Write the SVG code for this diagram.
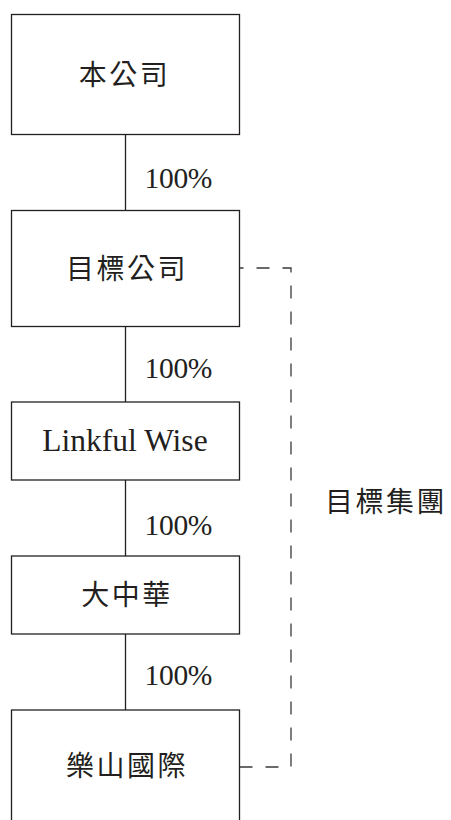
<svg xmlns="http://www.w3.org/2000/svg" width="451" height="820" viewBox="0 0 451 820">
<style>
.box{fill:#fff;stroke:#231f20;stroke-width:1.3}
.cjk{font-family:"Noto Sans CJK TC","Noto Sans CJK SC",sans-serif;font-size:28px;fill:#231f20;letter-spacing:2.5px;text-anchor:middle}
.lat{font-family:"Liberation Serif",serif;fill:#231f20}
.pct{font-size:29.5px;letter-spacing:-0.3px}
.line{stroke:#231f20;stroke-width:1.3;fill:none}
.dash{stroke:#3a3a3a;stroke-width:1.3;fill:none;stroke-dasharray:13 13}
</style>
<rect width="451" height="820" fill="#fff"/>
<g id="connectors">
<line class="line" x1="125.5" y1="134" x2="125.5" y2="210"/>
<line class="line" x1="125.5" y1="326" x2="125.5" y2="402"/>
<line class="line" x1="125.5" y1="480" x2="125.5" y2="556"/>
<line class="line" x1="125.5" y1="634" x2="125.5" y2="710"/>
<text class="lat pct" x="144.5" y="188">100%</text>
<text class="lat pct" x="144.5" y="378">100%</text>
<text class="lat pct" x="144.5" y="535">100%</text>
<text class="lat pct" x="144.5" y="685">100%</text>
<path class="dash" d="M239.5 268 H291 V767 H239.5" stroke-dashoffset="9"/>
</g>
<g id="n1"><rect class="box" x="11.5" y="14.5" width="228" height="120"/><text class="cjk" x="124.5" y="84.5">本公司</text></g>
<g id="n2"><rect class="box" x="11.5" y="210.5" width="228" height="116"/><text class="cjk" x="127" y="278.5">目標公司</text></g>
<g id="n3"><rect class="box" x="11.5" y="402" width="228" height="78"/><text class="lat" x="125" y="451" font-size="31.5" text-anchor="middle">Linkful Wise</text></g>
<g id="n4"><rect class="box" x="11.5" y="556" width="228" height="78"/><text class="cjk" x="127" y="604.5">大中華</text></g>
<g id="n5"><rect class="box" x="11.5" y="710" width="228" height="130"/><text class="cjk" x="127" y="776">樂山國際</text></g>
<g id="group-label"><text class="cjk" x="386" y="512">目標集團</text></g>
</svg>
